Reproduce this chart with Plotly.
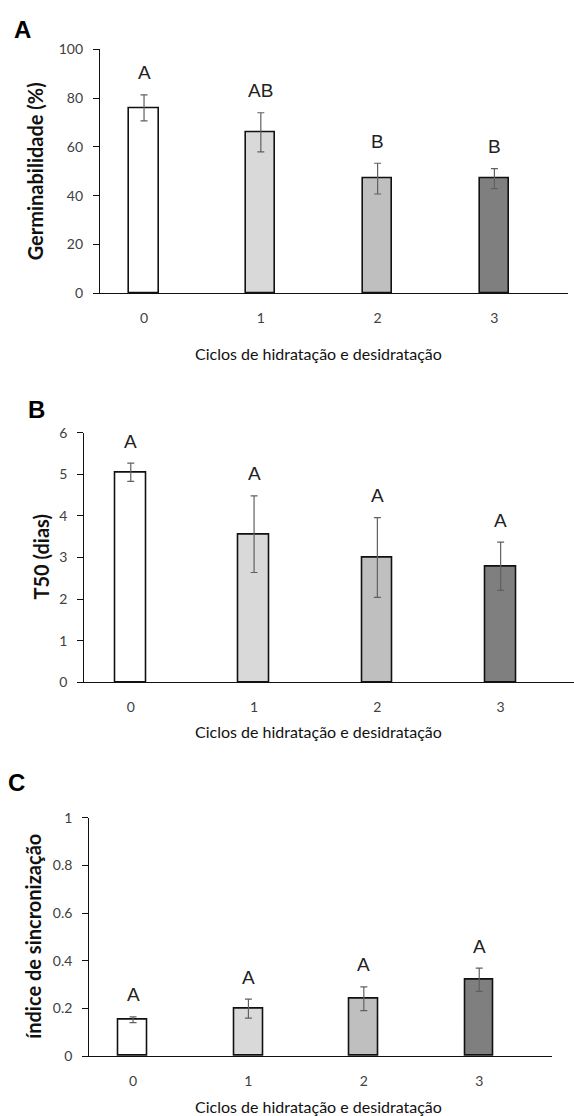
import plotly.graph_objects as go

W, H = 574, 1116

categories = [0, 1, 2, 3]
tick_labels = ["0", "1", "2", "3"]
bar_colors = ["#ffffff", "#d9d9d9", "#bfbfbf", "#7f7f7f"]

germ_mean = [76.0, 66.0, 47.0, 47.0]
germ_err = [5.3, 8.0, 6.3, 4.1]
germ_letters = ["A", "AB", "B", "B"]

t50_mean = [5.05, 3.56, 3.00, 2.79]
t50_err = [0.22, 0.92, 0.96, 0.58]
t50_letters = ["A", "A", "A", "A"]

sync_mean = [0.152, 0.199, 0.240, 0.320]
sync_err = [0.012, 0.040, 0.050, 0.049]
sync_letters = ["A", "A", "A", "A"]

x_title = "Ciclos de hidratação e desidratação"

def px_x(p):
    return p / W

def px_y(p):
    return 1 - p / H

TICKFONT = dict(family="Lato, Open Sans, sans-serif", size=14, color="#404040")
LETTERFONT = dict(family="Liberation Sans, Arial, sans-serif", size=19, color="#222222")

panels = [
    dict(mean=germ_mean, err=germ_err, letters=germ_letters, yrange=[0, 100], dtick=20,
         xdom=[px_x(100), px_x(568)], ydom=[px_y(293.3), px_y(49.3)], xrange=[-0.377, 3.63],
         ytitle="Germinabilidade (%)", ytitle_x=35, xtitle_y=353, label="A", label_xy=(22, 29)),
    dict(mean=t50_mean, err=t50_err, letters=t50_letters, yrange=[0, 6], dtick=1,
         xdom=[px_x(84.3), 1.0], ydom=[px_y(682.3), px_y(432.7)], xrange=[-0.377, 3.595],
         ytitle="T50 (dias)", ytitle_x=40, xtitle_y=731, label="B", label_xy=(36, 409)),
    dict(mean=sync_mean, err=sync_err, letters=sync_letters, yrange=[0, 1], dtick=0.2,
         xdom=[px_x(89.3), px_x(551.7)], ydom=[px_y(1056), px_y(817.7)], xrange=[-0.379, 3.628],
         ytitle="índice de sincronização", ytitle_x=33, xtitle_y=1106, label="C", label_xy=(16, 782)),
]

fig = go.Figure()
annotations = []
for i, p in enumerate(panels):
    n = "" if i == 0 else str(i + 1)
    xa, ya = "x" + n, "y" + n
    fig.add_trace(go.Bar(
        x=categories, y=p["mean"], width=0.25,
        marker=dict(color=bar_colors, line=dict(color="#111111", width=1.6)),
        error_y=dict(type="data", array=p["err"], color="#606060", thickness=1.2, width=3.5),
        xaxis=xa, yaxis=ya, showlegend=False, hoverinfo="skip",
    ))
    for c, m, e, l in zip(categories, p["mean"], p["err"], p["letters"]):
        annotations.append(dict(x=c, y=m + e, xref=xa, yref=ya, text=l, showarrow=False,
                                yanchor="middle", yshift=22, font=LETTERFONT))
    fig.layout["xaxis" + n] = dict(
        domain=p["xdom"], range=p["xrange"], anchor=ya,
        tickvals=categories, ticktext=tick_labels, ticks="",
        showline=True, linecolor="#111111", linewidth=1.3, automargin=False,
        showgrid=False, zeroline=False, tickfont=TICKFONT, ticklabelstandoff=12,
    )
    fig.layout["yaxis" + n] = dict(
        domain=p["ydom"], range=p["yrange"], dtick=p["dtick"], anchor=xa,
        showline=True, linecolor="#111111", linewidth=1.3, automargin=False,
        ticks="outside", ticklen=6, tickcolor="#111111", tickwidth=1,
        showgrid=False, zeroline=False, tickfont=TICKFONT, ticklabelstandoff=7,
    )
    ymid = (p["ydom"][0] + p["ydom"][1]) / 2
    annotations.append(dict(x=px_x(p["ytitle_x"]), y=ymid, xref="paper", yref="paper",
                            text="<b>" + p["ytitle"] + "</b>", textangle=-90, showarrow=False,
                            xanchor="center", yanchor="middle",
                            font=dict(family="Lato, Open Sans, sans-serif", size=20, color="#111111")))
    annotations.append(dict(x=px_x(318), y=px_y(p["xtitle_y"]), xref="paper", yref="paper",
                            text=x_title, showarrow=False, xanchor="center", yanchor="middle",
                            font=dict(family="Lato, Open Sans, sans-serif", size=16, color="#111111")))
    annotations.append(dict(x=px_x(p["label_xy"][0]), y=px_y(p["label_xy"][1]), xref="paper", yref="paper",
                            text="<b>" + p["label"] + "</b>", showarrow=False,
                            xanchor="center", yanchor="middle",
                            font=dict(family="Liberation Sans, Arial, sans-serif", size=24, color="#000000")))

fig.update_layout(width=W, height=H, margin=dict(l=0, r=0, t=0, b=0, pad=0, autoexpand=False),
                  plot_bgcolor="white", paper_bgcolor="white", showlegend=False,
                  annotations=annotations, bargap=0)

fig.write_html("out.html", config={"displayModeBar": False},
               post_script="document.body.style.margin='0px';")
